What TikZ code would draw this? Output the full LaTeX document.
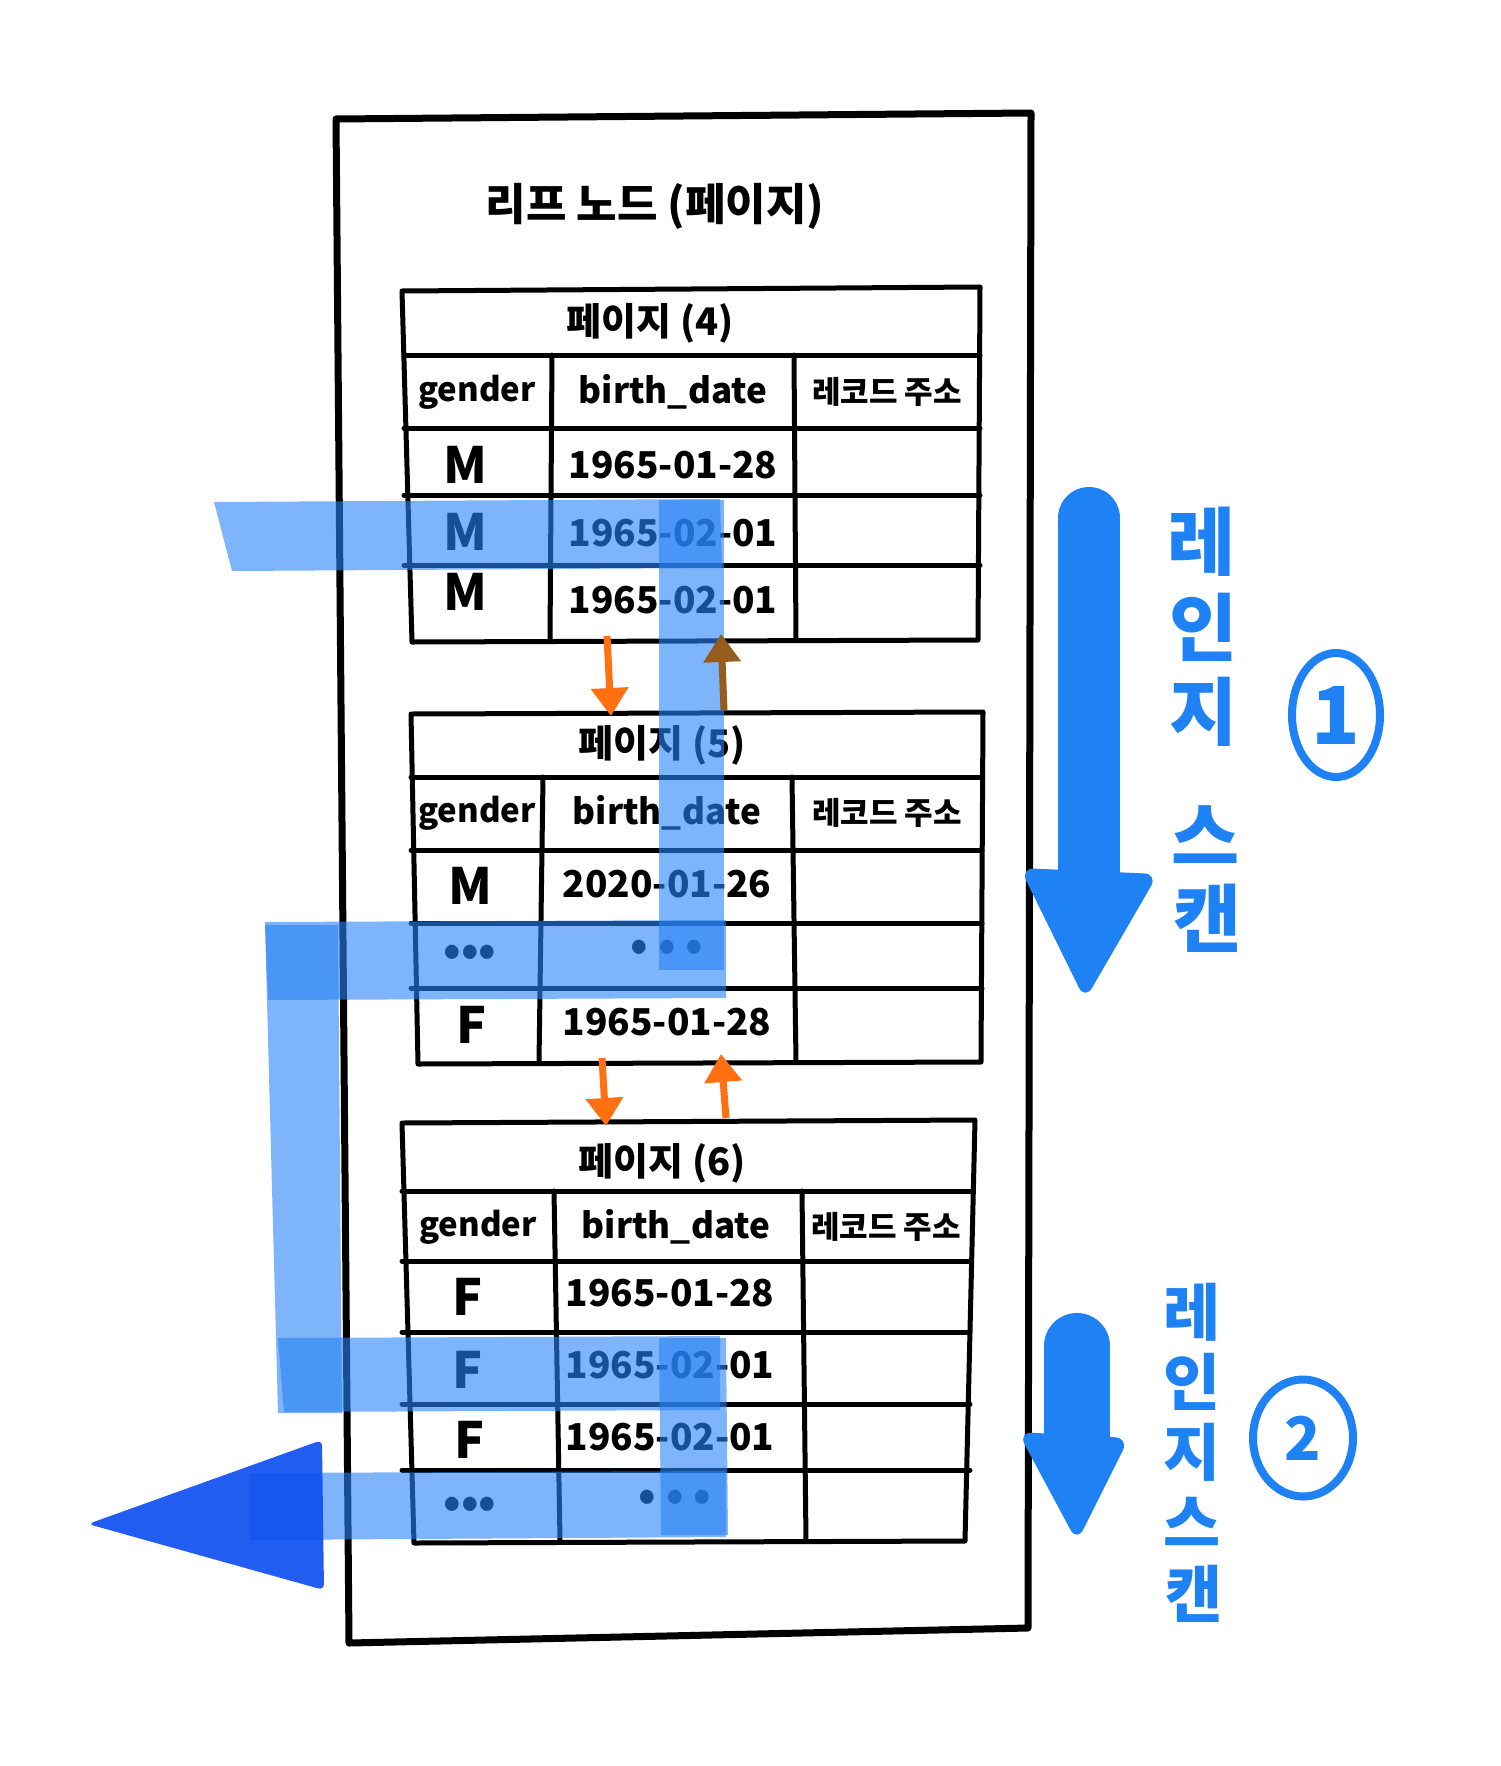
\documentclass[tikz,border=0pt]{standalone}
\usepackage{fontspec}
\setmainfont{Noto Sans CJK KR}
\usetikzlibrary{arrows.meta,shapes.geometric}
\definecolor{scanblue}{RGB}{30,130,245}
\definecolor{hlblue}{RGB}{40,130,245}
\definecolor{headblue}{RGB}{15,80,240}
\definecolor{arrorange}{RGB}{255,112,16}
\definecolor{arrbrown}{RGB}{150,92,30}
\tikzset{
  outline/.style={line width=7pt, line cap=round, line join=round},
  gridline/.style={line width=5pt, line cap=round, line join=round},
  lbl/.style={inner sep=0pt, anchor=center, text=black},
  maintitle/.style={lbl, font=\fontsize{44}{48}\selectfont\bfseries},
  ptitle/.style={lbl, font=\fontsize{38}{42}\selectfont\bfseries},
  hdr/.style={lbl, font=\fontsize{35}{40}\selectfont\bfseries},
  hdrg/.style={lbl, font=\fontsize{33}{38}\selectfont\bfseries},
  hdrk/.style={lbl, font=\fontsize{31}{36}\selectfont\bfseries},
  datum/.style={lbl, font=\fontsize{37}{42}\selectfont\bfseries},
  gchar/.style={lbl, font=\fontsize{50}{54}\selectfont\bfseries},
  dots/.style={lbl, font=\fontsize{44}{48}\selectfont\bfseries},
  stripe/.style={fill=hlblue, fill opacity=0.6},
  hop/.style={line width=7pt, -{Triangle[length=28pt,width=36pt]}},
  scanchar/.style={inner sep=0pt, text=scanblue, font=\fontsize{74}{78}\selectfont\bfseries},
  scanchartwo/.style={inner sep=0pt, text=scanblue, font=\fontsize{62}{66}\selectfont\bfseries},
  ring/.style={ellipse, draw=scanblue, line width=8pt, text=scanblue, inner sep=0pt},
}
\begin{document}
\begin{tikzpicture}[x=1pt,y=-1pt]
\useasboundingbox (0,0) rectangle (1500,1766);
\fill[white] (0,0) rectangle (1500,1766);

% outer frame
\draw[outline] (336,119) -- (1031,113) -- (1028,1628) -- (349,1643) -- cycle;
\node[maintitle] (title) at (655,206) {리프 노드 (페이지)};

% ---------- table page 4 ----------
\draw[gridline] (402,291) -- (980,287) -- (978,640) -- (412,642) -- cycle;
\foreach \yy in {355,428,495,565} \draw[gridline] (404,\yy) -- (980,\yy);
\draw[gridline] (552,355) -- (550,640);
\draw[gridline] (794,355) -- (796,640);
\node[ptitle] (p4t) at (650,323) {페이지 (4)};
\node[hdrg] (p4h1) at (477,392) {gender};
\node[hdr] (p4h2) at (673,392) {birth\_date};
\node[hdrk] (p4h3) at (887,392) {레코드 주소};
\node[gchar] (p4a1) at (465,465) {M};
\node[datum] (p4b1) at (673,465) {1965-01-28};
\node[gchar] (p4a2) at (465,532) {M};
\node[datum] (p4b2) at (673,533) {1965-02-01};
\node[gchar] (p4a3) at (465,592) {M};
\node[datum] (p4b3) at (673,600) {1965-02-01};

% ---------- table page 5 ----------
\draw[gridline] (411,714) -- (983,712) -- (981,1062) -- (418,1064) -- cycle;
\foreach \yy in {777,850,923,988} \draw[gridline] (411,\yy) -- (982,\yy);
\draw[gridline] (543,777) -- (539,1062);
\draw[gridline] (792,777) -- (796,1062);
\node[ptitle] (p5t) at (662,745) {페이지 (5)};
\node[hdrg] (p5h1) at (477,813) {gender};
\node[hdr] (p5h2) at (667,813) {birth\_date};
\node[hdrk] (p5h3) at (887,813) {레코드 주소};
\node[gchar] (p5a1) at (470,886) {M};
\node[datum] (p5b1) at (667,884) {2020-01-26};
\node[dots] (p5a2) at (470,955) {•••};
\node[dots] (p5b2) at (667,950) {• • •};
\node[gchar] (p5a3) at (472,1025) {F};
\node[datum] (p5b3) at (667,1022) {1965-01-28};

% ---------- table page 6 ----------
\draw[gridline] (402,1123) -- (975,1120) -- (965,1541) -- (414,1543) -- cycle;
\foreach \yy in {1191,1261,1332,1404,1470} \draw[gridline] (402,\yy) -- (970,\yy);
\draw[gridline] (554,1191) -- (560,1541);
\draw[gridline] (802,1191) -- (806,1541);
\node[ptitle] (p6t) at (662,1163) {페이지 (6)};
\node[hdrg] (p6h1) at (478,1227) {gender};
\node[hdr] (p6h2) at (676,1227) {birth\_date};
\node[hdrk] (p6h3) at (886,1227) {레코드 주소};
\node[gchar] (p6a1) at (468,1297) {F};
\node[datum] (p6b1) at (670,1293) {1965-01-28};
\node[gchar] (p6a2) at (468,1370) {F};
\node[datum] (p6b2) at (670,1365) {1965-02-01};
\node[gchar] (p6a3) at (470,1440) {F};
\node[datum] (p6b3) at (670,1437) {1965-02-01};
\node[dots] (p6a4) at (470,1507) {•••};
\node[dots] (p6b4) at (675,1500) {• • •};

% ---------- highlight stripes (scan path) ----------
\fill[stripe] (214,502) -- (720,499) -- (722,568) -- (232,571) -- cycle;
\fill[stripe] (659,500) -- (724,500) -- (724,970) -- (659,970) -- cycle;
\fill[stripe] (265,922) -- (726,920) -- (726,998) -- (268,1000) -- cycle;
\fill[stripe] (265,925) -- (338,925) -- (342,1413) -- (278,1413) -- cycle;
\fill[stripe] (278,1338) -- (720,1336) -- (720,1410) -- (284,1412) -- cycle;
\fill[stripe] (659,1338) -- (726,1338) -- (728,1535) -- (661,1535) -- cycle;
\fill[stripe] (250,1473) -- (726,1471) -- (726,1537) -- (250,1540) -- cycle;
\fill[headblue, fill opacity=0.92, rounded corners=6pt] (88,1524) -- (322,1440) -- (324,1590) -- cycle;

% ---------- page links ----------
\coordinate (l1s) at (607,636); \coordinate (l1e) at (611,716);
\coordinate (l2s) at (724,710); \coordinate (l2e) at (721,634);
\coordinate (l3s) at (602,1058); \coordinate (l3e) at (606,1126);
\coordinate (l4s) at (726,1118); \coordinate (l4e) at (721,1054);
\draw[hop, color=arrorange] (l1s) -- (l1e);
\draw[hop, color=arrbrown] (l2s) -- (l2e);
\draw[hop, color=arrorange] (l3s) -- (l3e);
\draw[hop, color=arrorange] (l4s) -- (l4e);

% ---------- range scan 1 ----------
\coordinate (r1top) at (1089,518);
\coordinate (r1base) at (1089,880);
\coordinate (r1tip) at (1085,1000);
\draw[scanblue, line width=62pt, line cap=round] (r1top) -- (r1base);
\fill[scanblue, rounded corners=14pt] (1020,868) -- (1158,874) -- (r1tip) -- cycle;
\node[scanchar] (s1a) at (1202,542) {레};
\node[scanchar] (s1b) at (1204,627) {인};
\node[scanchar] (s1c) at (1204,712) {지};
\node[scanchar] (s1d) at (1206,835) {스};
\node[scanchar] (s1e) at (1208,918) {캔};
\node[ring, minimum width=88pt, minimum height=124pt, font=\fontsize{80}{84}\selectfont\bfseries] (c1) at (1336,715) {1};

% ---------- range scan 2 ----------
\coordinate (r2top) at (1077,1346);
\coordinate (r2base) at (1077,1440);
\coordinate (r2tip) at (1077,1542);
\draw[scanblue, line width=66pt, line cap=round] (r2top) -- (r2base);
\fill[scanblue, rounded corners=14pt] (1018,1432) -- (1129,1438) -- (r2tip) -- cycle;
\node[scanchartwo] (s2a) at (1192,1312) {레};
\node[scanchartwo] (s2b) at (1192,1382) {인};
\node[scanchartwo] (s2c) at (1192,1452) {지};
\node[scanchartwo] (s2d) at (1192,1522) {스};
\node[scanchartwo] (s2e) at (1194,1594) {캔};
\node[ring, minimum width=100pt, minimum height=117pt, font=\fontsize{60}{64}\selectfont\bfseries] (c2) at (1303,1438) {2};
\end{tikzpicture}
\end{document}
